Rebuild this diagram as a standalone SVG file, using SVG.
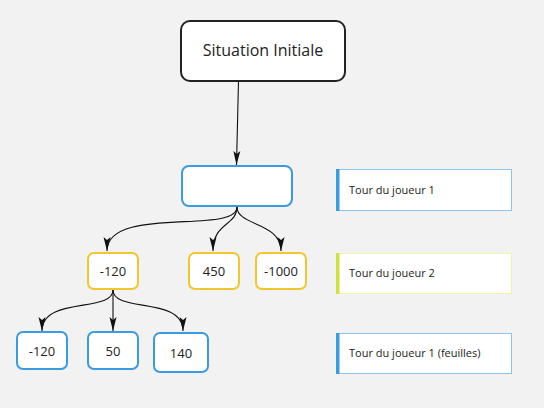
<svg xmlns="http://www.w3.org/2000/svg" width="544" height="408" viewBox="0 0 544 408">
<defs>
<marker id="arr" viewBox="0 0 14 8" refX="14" refY="4" markerWidth="14" markerHeight="8" markerUnits="userSpaceOnUse" orient="auto">
<path d="M0,0.5 L3,4 L0,7.5 L14,4 Z" fill="#111"/>
</marker>
<style>
.edge{fill:none;stroke:#111;stroke-width:1.1}
.root{fill:#fff;stroke:#222;stroke-width:2}
.blue{fill:#fff;stroke:#3a9be0;stroke-width:2}
.yellow{fill:#fff;stroke:#f2c72e;stroke-width:2}
.t{font-family:"Open Sans","Noto Sans","Liberation Sans",sans-serif;fill:#222;text-anchor:middle;dominant-baseline:central}
.lt{font-family:"Open Sans","Noto Sans","Liberation Sans",sans-serif;fill:#222;font-size:11px;dominant-baseline:central}
</style>
</defs>
<rect width="544" height="408" fill="#f2f2f2"/>
<g id="connectors">
<path class="edge" d="M238.5,81 L236.5,165" marker-end="url(#arr)"/>
<path class="edge" d="M237,207 C237,235 107,205 107,251" marker-end="url(#arr)"/>
<path class="edge" d="M237,207 C237,226 213,222 213,251" marker-end="url(#arr)"/>
<path class="edge" d="M237,207 C237,226 281,222 281,251" marker-end="url(#arr)"/>
<path class="edge" d="M113,290 C113,313 42,296 42,331" marker-end="url(#arr)"/>
<path class="edge" d="M113,290 L113,331" marker-end="url(#arr)"/>
<path class="edge" d="M113,290 C113,313 183,296 183,331" marker-end="url(#arr)"/>
</g>
<g id="root"><rect class="root" x="181" y="21" width="164" height="60" rx="9"/><text class="t" x="263" y="50" font-size="16">Situation Initiale</text></g>
<g id="n1"><rect class="blue" x="182" y="166" width="110" height="40" rx="7"/></g>
<g id="n2a"><rect class="yellow" x="88" y="253" width="50" height="36" rx="6"/><text class="t" x="113" y="271" font-size="13">-120</text></g>
<g id="n2b"><rect class="yellow" x="189" y="253" width="50" height="36" rx="6"/><text class="t" x="214" y="271" font-size="13">450</text></g>
<g id="n2c"><rect class="yellow" x="256" y="253" width="50" height="36" rx="6"/><text class="t" x="281" y="271" font-size="13">-1000</text></g>
<g id="n3a"><rect class="blue" x="17" y="332" width="50" height="37" rx="6"/><text class="t" x="42" y="350.5" font-size="13">-120</text></g>
<g id="n3b"><rect class="blue" x="88" y="332" width="50" height="37" rx="6"/><text class="t" x="113" y="350.5" font-size="13">50</text></g>
<g id="n3c"><rect class="blue" x="154" y="333" width="54" height="39" rx="6"/><text class="t" x="181" y="352.5" font-size="13">140</text></g>
<g id="legend1"><rect x="336.5" y="169.5" width="175" height="41" fill="#fff" stroke="#8cc4ec" stroke-width="1"/><rect x="336" y="169" width="3.5" height="42" fill="#3a9be0"/><text class="lt" x="349" y="189">Tour du joueur 1</text></g>
<g id="legend2"><rect x="336.5" y="253.5" width="175" height="40" fill="#fff" stroke="#eef5a8" stroke-width="1"/><rect x="336" y="253" width="3.5" height="41" fill="#cde23c"/><text class="lt" x="349" y="272">Tour du joueur 2</text></g>
<g id="legend3"><rect x="336.5" y="333.5" width="175" height="40" fill="#fff" stroke="#8cc4ec" stroke-width="1"/><rect x="336" y="333" width="3.5" height="41" fill="#3a9be0"/><text class="lt" x="349" y="352">Tour du joueur 1 (feuilles)</text></g>
</svg>
